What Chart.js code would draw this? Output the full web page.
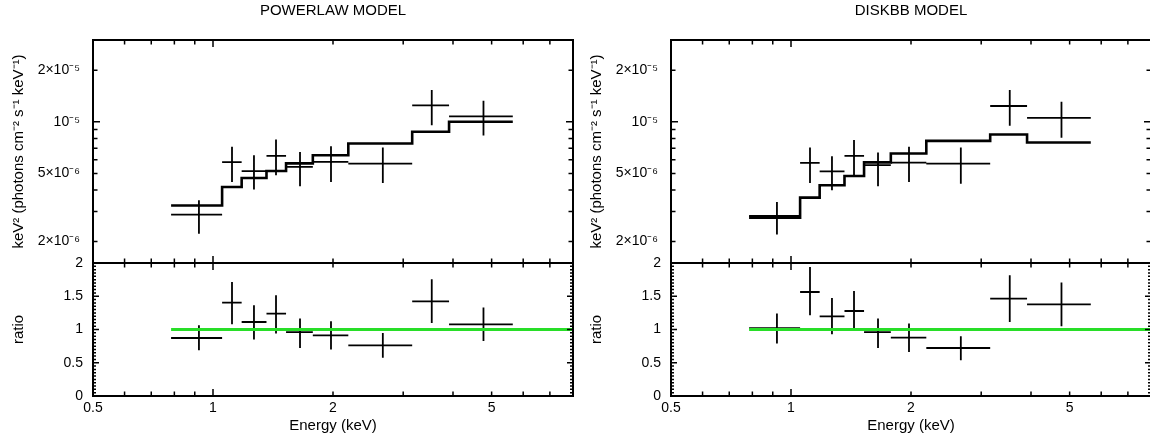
<!DOCTYPE html>
<html>
<head>
<meta charset="utf-8">
<script src="https://cdn.jsdelivr.net/npm/chart.js@4.4.1/dist/chart.umd.min.js"></script>
<style>
  html, body { margin: 0; padding: 0; background: #fff; overflow: hidden; }
  #wrap { position: relative; width: 1150px; height: 438px; overflow: hidden; }
  canvas { position: absolute; top: 0; }
</style>
</head>
<body>
<div id="wrap">
  <canvas id="pl" width="578" height="438" style="left:0"></canvas>
  <canvas id="db" width="578" height="438" style="left:578px"></canvas>
</div>
<script>
// energy bins (keV)
const binEdges = [0.785, 1.054, 1.18, 1.362, 1.525, 1.78, 2.185, 3.16, 3.91, 5.65];
const binMid = [0.922, 1.116, 1.267, 1.439, 1.653, 1.977, 2.667, 3.538, 4.77];

// powerlaw fit
const plFlux   = [2.87e-6, 5.81e-6, 5.16e-6, 6.32e-6, 5.45e-6, 5.83e-6, 5.70e-6, 1.248e-5, 1.075e-5];
const plFluxLo = [2.22e-6, 4.45e-6, 4.02e-6, 4.87e-6, 4.20e-6, 4.45e-6, 4.39e-6, 9.56e-6, 8.32e-6];
const plFluxHi = [3.48e-6, 7.14e-6, 6.38e-6, 7.89e-6, 6.67e-6, 7.21e-6, 7.08e-6, 1.534e-5, 1.327e-5];
const plModel  = [3.25e-6, 4.16e-6, 4.70e-6, 5.16e-6, 5.72e-6, 6.38e-6, 7.47e-6, 8.74e-6, 1.0e-5];
const plRatio   = [0.872, 1.404, 1.113, 1.239, 0.962, 0.913, 0.762, 1.424, 1.078];
const plRatioLo = [0.687, 1.078, 0.848, 0.938, 0.722, 0.698, 0.577, 1.098, 0.827];
const plRatioHi = [1.063, 1.714, 1.364, 1.514, 1.164, 1.123, 0.947, 1.755, 1.33];

// diskbb fit
const dbFlux   = [2.82e-6, 5.75e-6, 5.14e-6, 6.32e-6, 5.58e-6, 5.78e-6, 5.70e-6, 1.236e-5, 1.055e-5];
const dbFluxLo = [2.20e-6, 4.39e-6, 3.98e-6, 4.83e-6, 4.20e-6, 4.45e-6, 4.35e-6, 9.48e-6, 8.06e-6];
const dbFluxHi = [3.40e-6, 7.08e-6, 6.30e-6, 7.82e-6, 6.62e-6, 7.14e-6, 7.08e-6, 1.534e-5, 1.31e-5];
const dbModel  = [2.76e-6, 3.61e-6, 4.26e-6, 4.83e-6, 5.80e-6, 6.53e-6, 7.74e-6, 8.43e-6, 7.57e-6];
const dbRatio   = [1.02, 1.564, 1.198, 1.278, 0.962, 0.878, 0.722, 1.465, 1.379];
const dbRatioLo = [0.788, 1.213, 0.928, 0.988, 0.722, 0.662, 0.537, 1.113, 1.048];
const dbRatioHi = [1.239, 1.94, 1.474, 1.579, 1.164, 1.089, 0.898, 1.815, 1.705];

// ticks
const energyTicks = [0.5, 0.6, 0.7, 0.8, 0.9, 1, 2, 3, 4, 5, 6, 7, 8];
const energyTickLabels = ['0.5', '', '', '', '', '1', '2', '', '', '5', '', '', ''];
const fluxTicks = [2e-6, 3e-6, 4e-6, 5e-6, 6e-6, 7e-6, 8e-6, 9e-6, 1e-5, 2e-5, 3e-5];
const fluxTickLabels = ['2×10⁻⁶', '', '', '5×10⁻⁶', '', '', '', '', '10⁻⁵', '2×10⁻⁵', ''];
const ratioTickLabels = ['0', '0.5', '1', '1.5', '2'];
const ratioTicks = [];
for (let i = 0; i <= 40; i++) ratioTicks.push(i * 0.05);

const FONT = "'Liberation Sans', Arial, Helvetica, sans-serif";
const GREEN = 'rgb(40, 222, 40)';

function crossData(lo, hi, mid, y, yLo, yHi) {
  const out = [];
  for (let i = 0; i < mid.length; i++) {
    out.push({x: lo[i], y: y[i]}, {x: hi[i], y: y[i]}, {x: hi[i], y: null});
    out.push({x: mid[i], y: yLo[i]}, {x: mid[i], y: yHi[i]}, {x: mid[i], y: null});
  }
  return out;
}

// inward tick marks and panel frames
const framePlugin = {
  id: 'frame',
  afterDatasetsDraw(chart) {
    const {ctx, chartArea: ca, scales} = chart;
    const x = scales.x;
    ctx.save();
    ctx.strokeStyle = '#000';
    [scales.yt, scales.yr].forEach(s => {
      ctx.lineWidth = 1.5;
      ctx.beginPath();
      energyTicks.forEach(v => {
        if (v === x.min || v === x.max) return;
        const px = x.getPixelForValue(v);
        const len = v === 1 ? 7 : 4.5;
        ctx.moveTo(px, s.top); ctx.lineTo(px, s.top + len);
        ctx.moveTo(px, s.bottom); ctx.lineTo(px, s.bottom - len);
      });
      s.ticks.forEach((t, i) => {
        if (t.value <= s.min || t.value >= s.max) return;
        const py = s.getPixelForValue(t.value);
        let len;
        if (s.id === 'yt') len = t.value === 1e-5 ? 7 : 4.5;
        else len = i % 10 === 0 ? 6 : 3;
        ctx.moveTo(ca.left, py); ctx.lineTo(ca.left + len, py);
        ctx.moveTo(ca.right, py); ctx.lineTo(ca.right - len, py);
      });
      ctx.stroke();
      ctx.lineWidth = 2;
      ctx.strokeRect(ca.left, s.top, ca.right - ca.left, s.bottom - s.top);
    });
    ctx.restore();
  }
};

function makePanel(id, title, flux, fluxLo, fluxHi, model, ratio, ratioLo, ratioHi) {
  const lo = binEdges.slice(0, -1);
  const hi = binEdges.slice(1);
  const stepData = binEdges.map((e, i) => ({x: e, y: model[Math.min(i, model.length - 1)]}));
  const tickFont = {family: FONT, size: 14};
  const titleFont = {family: FONT, size: 15};

  new Chart(document.getElementById(id), {
    type: 'scatter',
    data: {
      datasets: [
        {data: [{x: binEdges[0], y: 1}, {x: 8, y: 1}], yAxisID: 'yr', showLine: true,
         borderColor: GREEN, borderWidth: 3, pointRadius: 0, order: 0},
        {data: crossData(lo, hi, binMid, ratio, ratioLo, ratioHi), yAxisID: 'yr', showLine: true,
         borderColor: '#000', borderWidth: 1.8, pointRadius: 0, spanGaps: false, order: 1},
        {data: stepData, yAxisID: 'yt', showLine: true, stepped: true,
         borderColor: '#000', borderWidth: 2.6, pointRadius: 0, order: 2},
        {data: crossData(lo, hi, binMid, flux, fluxLo, fluxHi), yAxisID: 'yt', showLine: true,
         borderColor: '#000', borderWidth: 1.8, pointRadius: 0, spanGaps: false, order: 1}
      ]
    },
    options: {
      responsive: false,
      animation: false,
      layout: {padding: {left: 0, right: 5, top: 0, bottom: 0}},
      plugins: {
        legend: {display: false},
        tooltip: {enabled: false},
        title: {display: true, text: title, color: '#000', fullSize: false,
                font: {family: FONT, size: 15, weight: 'normal'},
                padding: {top: 2, bottom: 20}}
      },
      scales: {
        x: {
          type: 'logarithmic', position: 'bottom', min: 0.5, max: 8, bounds: 'data',
          afterBuildTicks: s => { s.ticks = energyTicks.map(v => ({value: v})); },
          afterFit: s => { s.height = 42; },
          grid: {display: false, drawTicks: false, tickLength: 0},
          border: {display: false},
          ticks: {autoSkip: false, maxRotation: 0, padding: 4, color: '#000', font: tickFont,
                  callback: (v, i) => energyTickLabels[i]},
          title: {display: true, text: 'Energy (keV)', color: '#000', font: titleFont,
                  padding: {top: 0, bottom: 3}}
        },
        yr: {
          type: 'linear', position: 'left', stack: 'v', stackWeight: 133,
          min: 0, max: 2, bounds: 'data',
          afterBuildTicks: s => { s.ticks = ratioTicks.map(v => ({value: v})); },
          afterFit: s => { s.width = 93; },
          grid: {display: false, drawTicks: false, tickLength: 0},
          border: {display: false},
          ticks: {autoSkip: false, padding: 10, color: '#000', font: tickFont,
                  callback: (v, i) => (i % 10 === 0 ? ratioTickLabels[i / 10] : '')},
          title: {display: true, text: 'ratio', color: '#000', font: titleFont,
                  padding: {top: 10, bottom: 0}}
        },
        yt: {
          type: 'logarithmic', position: 'left', stack: 'v', stackWeight: 223,
          min: 1.5e-6, max: 3e-5, bounds: 'data',
          afterBuildTicks: s => { s.ticks = fluxTicks.map(v => ({value: v})); },
          afterFit: s => { s.width = 93; },
          grid: {display: false, drawTicks: false, tickLength: 0},
          border: {display: false},
          ticks: {autoSkip: false, padding: 13, color: '#000', font: tickFont,
                  callback: (v, i) => fluxTickLabels[i]},
          title: {display: true, text: 'keV² (photons cm⁻² s⁻¹ keV⁻¹)', color: '#000', font: titleFont,
                  padding: {top: 10, bottom: 0}}
        }
      }
    },
    plugins: [framePlugin]
  });
}

makePanel('pl', 'POWERLAW MODEL', plFlux, plFluxLo, plFluxHi, plModel, plRatio, plRatioLo, plRatioHi);
makePanel('db', 'DISKBB MODEL', dbFlux, dbFluxLo, dbFluxHi, dbModel, dbRatio, dbRatioLo, dbRatioHi);
</script>
</body>
</html>
